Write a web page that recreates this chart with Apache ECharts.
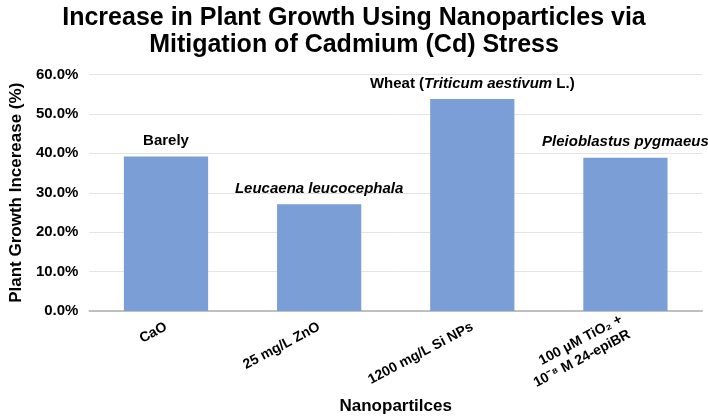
<!DOCTYPE html>
<html>
<head>
<meta charset="utf-8">
<script src="https://cdn.jsdelivr.net/npm/echarts@6/dist/echarts.min.js"></script>
<style>
  html, body { margin: 0; padding: 0; background: #fff; }
  #chart { width: 708px; height: 420px; }
</style>
</head>
<body>
<div id="chart"></div>
<script>
// data
const categories = ["CaO", "25 mg/L ZnO", "1200 mg/L Si NPs", "100 µM TiO₂ +\n10⁻⁸ M 24-epiBR"];
const growthIncrease = [0.392, 0.271, 0.538, 0.389];
const plantNames = [
  "{b|Barely}",
  "{bi|Leucaena leucocephala}",
  "{b|Wheat (}{bi|Triticum aestivum}{b| L.)}",
  "{bi|Pleioblastus pygmaeus}"
];
const yTicks = { min: 0, max: 0.6, interval: 0.1 };

const font = "Liberation Sans, Arial, sans-serif";

const chart = echarts.init(document.getElementById("chart"));

const option = {
  animation: false,
  title: {
    text: "Increase in Plant Growth Using Nanoparticles via\nMitigation of Cadmium (Cd) Stress",
    left: "center",
    top: 0,
    textStyle: {
      fontFamily: font,
      fontWeight: "bold",
      fontSize: 25,
      lineHeight: 27,
      color: "#000"
    }
  },
  grid: {
    left: 82,
    right: 6,
    top: 74.5,
    bottom: 107.5
  },
  xAxis: {
    type: "category",
    data: categories,
    name: "Nanopartilces",
    nameLocation: "middle",
    nameGap: 87,
    nameTextStyle: {
      fontFamily: font,
      fontWeight: "bold",
      fontSize: 17,
      color: "#000"
    },
    axisTick: { show: false },
    axisLine: { lineStyle: { color: "#bfbfbf", width: 2 } },
    axisLabel: {
      rotate: 28,
      margin: 15,
      fontFamily: font,
      fontWeight: "bold",
      fontSize: 14,
      lineHeight: 17,
      color: "#000",
      interval: 0
    }
  },
  yAxis: {
    type: "value",
    min: yTicks.min,
    max: yTicks.max,
    interval: yTicks.interval,
    name: "Plant Growth Incerease (%)",
    nameLocation: "middle",
    nameGap: 62,
    nameTextStyle: {
      fontFamily: font,
      fontWeight: "bold",
      fontSize: 17,
      color: "#000"
    },
    axisLine: { show: false },
    axisTick: { show: false },
    axisLabel: {
      margin: 11,
      fontFamily: font,
      fontWeight: "bold",
      fontSize: 15,
      color: "#000",
      formatter: v => (v * 100).toFixed(1) + "%"
    },
    splitLine: { lineStyle: { color: "#e4e4e4", width: 1 } }
  },
  series: [
    {
      type: "bar",
      data: growthIncrease,
      barWidth: "55%",
      itemStyle: { color: "#7b9ed6" },
      label: {
        show: true,
        position: "top",
        distance: 8,
        formatter: p => plantNames[p.dataIndex],
        rich: {
          b: { fontFamily: font, fontWeight: "bold", fontSize: 15, color: "#000" },
          bi: { fontFamily: font, fontWeight: "bold", fontStyle: "italic", fontSize: 15, color: "#000" }
        }
      }
    }
  ]
};

chart.setOption(option);
</script>
</body>
</html>
